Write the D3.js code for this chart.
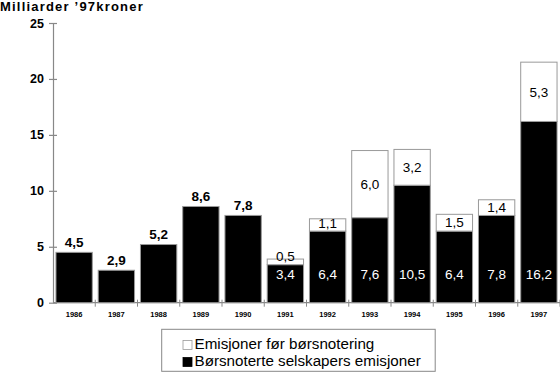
<!DOCTYPE html>
<html>
<head>
<meta charset="utf-8">
<script src="https://cdn.jsdelivr.net/npm/d3@7"></script>
<style>
  body { margin: 0; background: #fff; }
  svg { display: block; font-family: "Liberation Sans", Arial, Helvetica, sans-serif; }
</style>
</head>
<body>
<div id="chart"></div>
<script>
const years = ["1986", "1987", "1988", "1989", "1990", "1991", "1992", "1993", "1994", "1995", "1996", "1997"];
// Børsnoterte selskapers emisjoner (black)
const listed = [4.5, 2.9, 5.2, 8.6, 7.8, 3.4, 6.4, 7.6, 10.5, 6.4, 7.8, 16.2];
// Emisjoner før børsnotering (white)
const preListing = [0, 0, 0, 0, 0, 0.5, 1.1, 6.0, 3.2, 1.5, 1.4, 5.3];
const yTicks = [0, 5, 10, 15, 20, 25];
const legendLabels = ["Emisjoner før børsnotering", "Børsnoterte selskapers emisjoner"];

const w = 560, h = 372;
const axisColor = "#888";
const fmt = v => d3.format(".1f")(v).replace(".", ",");

const svg = d3.select("#chart").append("svg")
  .attr("width", w)
  .attr("height", h);

const x = d3.scaleBand()
  .domain(years)
  .range([53, 560])
  .paddingInner(0.14)
  .paddingOuter(0.07);

const y = d3.scaleLinear()
  .domain([0, 25])
  .range([302.7, 23]);

// title
svg.append("text")
  .attr("x", 0)
  .attr("y", 11)
  .attr("font-size", 13)
  .attr("font-weight", "bold")
  .attr("letter-spacing", 1.2)
  .text("Milliarder \u201997kroner");

// y axis
const leftAxis = d3.axisLeft(y).tickValues(yTicks).tickSize(0).tickPadding(9);
const gy = svg.append("g")
  .attr("transform", "translate(53,0)")
  .call(leftAxis);
gy.select(".domain").attr("stroke", axisColor).attr("stroke-width", 1.2);
gy.selectAll(".tick text")
  .attr("font-size", 12.5)
  .attr("font-weight", "bold")
  .attr("fill", "#000")
  .attr("font-family", "Liberation Sans, Arial, sans-serif");
gy.selectAll(".tick").append("line")
  .attr("x1", -4).attr("x2", 4)
  .attr("stroke", axisColor).attr("stroke-width", 1.2);

// x axis
svg.append("line")
  .attr("x1", 53).attr("x2", 560)
  .attr("y1", y(0)).attr("y2", y(0))
  .attr("stroke", axisColor).attr("stroke-width", 1.2);

const gap = x.step() * x.paddingInner();
svg.append("g").selectAll("line")
  .data(years)
  .join("line")
  .attr("x1", d => x(d) + x.bandwidth() + gap / 2)
  .attr("x2", d => x(d) + x.bandwidth() + gap / 2)
  .attr("y1", y(0) - 3).attr("y2", y(0) + 4)
  .attr("stroke", axisColor).attr("stroke-width", 1);

svg.append("g").selectAll("text")
  .data(years)
  .join("text")
  .attr("x", d => x(d) + x.bandwidth() / 2)
  .attr("y", y(0) + 14.5)
  .attr("text-anchor", "middle")
  .attr("font-size", 7.5)
  .attr("font-weight", "bold")
  .text(d => d);

// bars
const bars = svg.append("g");
bars.selectAll("rect.listed")
  .data(years)
  .join("rect")
  .attr("class", "listed")
  .attr("x", d => x(d))
  .attr("width", x.bandwidth())
  .attr("y", (d, i) => y(listed[i]))
  .attr("height", (d, i) => y(0) - y(listed[i]))
  .attr("fill", "#000")
  .attr("stroke", "#999")
  .attr("stroke-width", 1);

bars.selectAll("rect.pre")
  .data(years.filter((d, i) => preListing[i] > 0))
  .join("rect")
  .attr("class", "pre")
  .attr("x", d => x(d))
  .attr("width", x.bandwidth())
  .attr("y", d => { const i = years.indexOf(d); return y(listed[i] + preListing[i]); })
  .attr("height", d => { const i = years.indexOf(d); return y(listed[i]) - y(listed[i] + preListing[i]); })
  .attr("fill", "#fff")
  .attr("stroke", "#999")
  .attr("stroke-width", 1);

// value labels
years.forEach((d, i) => {
  const cx = x(d) + x.bandwidth() / 2;
  if (preListing[i] === 0) {
    svg.append("text")
      .attr("x", cx)
      .attr("y", y(listed[i]) - 5.5)
      .attr("text-anchor", "middle")
      .attr("font-size", 13.5)
      .attr("font-weight", "bold")
      .text(fmt(listed[i]));
  } else {
    svg.append("text")
      .attr("x", cx)
      .attr("y", y(2.5))
      .attr("dy", "0.35em")
      .attr("text-anchor", "middle")
      .attr("font-size", 13.5)
      .attr("fill", "#fff")
      .text(fmt(listed[i]));
    const mid = (y(listed[i]) + y(listed[i] + preListing[i])) / 2;
    svg.append("text")
      .attr("x", cx)
      .attr("y", Math.min(mid, y(listed[i]) - 8))
      .attr("dy", "0.35em")
      .attr("text-anchor", "middle")
      .attr("font-size", 13.5)
      .attr("fill", "#000")
      .text(fmt(preListing[i]));
  }
});

// legend
const lg = svg.append("g");
lg.append("rect")
  .attr("x", 161.7).attr("y", 329.3)
  .attr("width", 273.5).attr("height", 42)
  .attr("fill", "#fff")
  .attr("stroke", "#888").attr("stroke-width", 1);

const legendFills = ["#fff", "#000"];
legendLabels.forEach((label, i) => {
  const ry = 340.5 + i * 17;
  lg.append("rect")
    .attr("x", 183).attr("y", ry)
    .attr("width", 9).attr("height", 9)
    .attr("fill", legendFills[i])
    .attr("stroke", i === 0 ? "#999" : "#000")
    .attr("stroke-width", 0.8);
  lg.append("text")
    .attr("x", 194.5)
    .attr("y", ry + 8.5)
    .attr("font-size", 15.2)
    .text(label);
});
</script>
</body>
</html>
